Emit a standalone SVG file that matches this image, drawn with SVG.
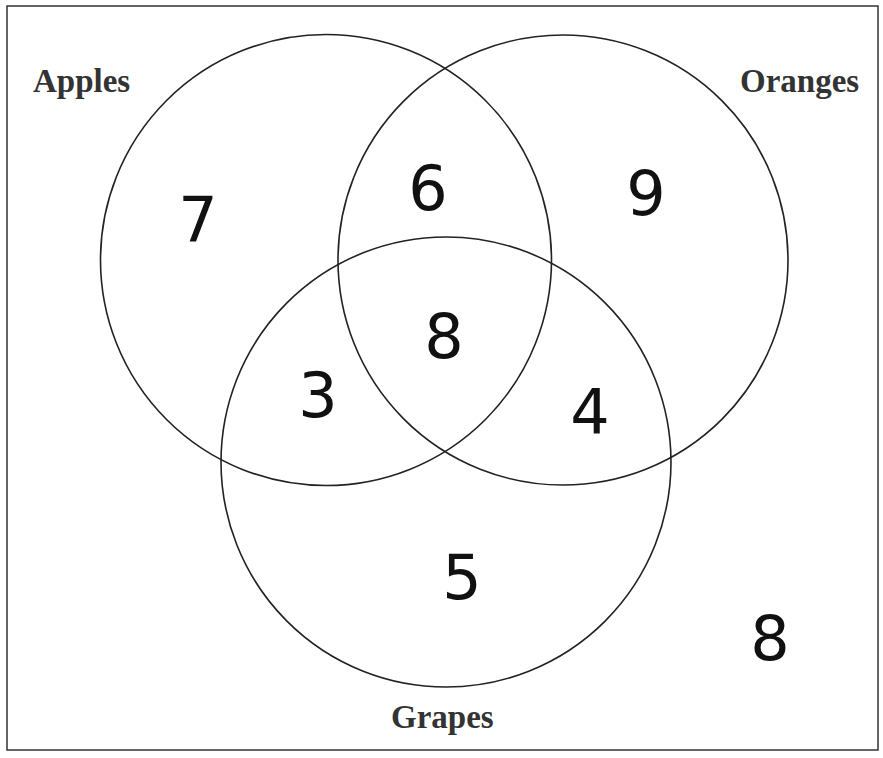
<svg xmlns="http://www.w3.org/2000/svg" width="883" height="758" viewBox="0 0 883 758">
<style>
.c{fill:none;stroke:#222;stroke-width:1.6}
.lbl{font-family:"Liberation Serif","Times New Roman",serif;font-weight:bold;font-size:33px;fill:#333}
.num{font-family:"DejaVu Sans","Liberation Sans",sans-serif;font-size:62px;fill:#111;text-anchor:middle;dominant-baseline:central}
</style>
<rect x="0" y="0" width="883" height="758" fill="#fff"/>
<rect x="7" y="6" width="871" height="744" fill="none" stroke="#333" stroke-width="1.5"/>
<g id="connectors"></g>
<g id="apples"><circle class="c" cx="326" cy="260" r="225.5"/><text class="lbl" x="33" y="92">Apples</text></g>
<g id="oranges"><circle class="c" cx="563" cy="260" r="225"/><text class="lbl" x="740" y="92">Oranges</text></g>
<g id="grapes"><circle class="c" cx="446" cy="462" r="225"/><text class="lbl" x="391" y="728">Grapes</text></g>
<g id="n7"><text class="num" x="198" y="219">7</text></g>
<g id="n6"><text class="num" x="428" y="188">6</text></g>
<g id="n9"><text class="num" x="646" y="193">9</text></g>
<g id="n8c"><text class="num" x="444" y="336">8</text></g>
<g id="n3"><text class="num" x="318" y="395">3</text></g>
<g id="n4"><text class="num" x="590" y="412">4</text></g>
<g id="n5"><text class="num" x="462" y="577">5</text></g>
<g id="n8o"><text class="num" x="770" y="638">8</text></g>
</svg>
